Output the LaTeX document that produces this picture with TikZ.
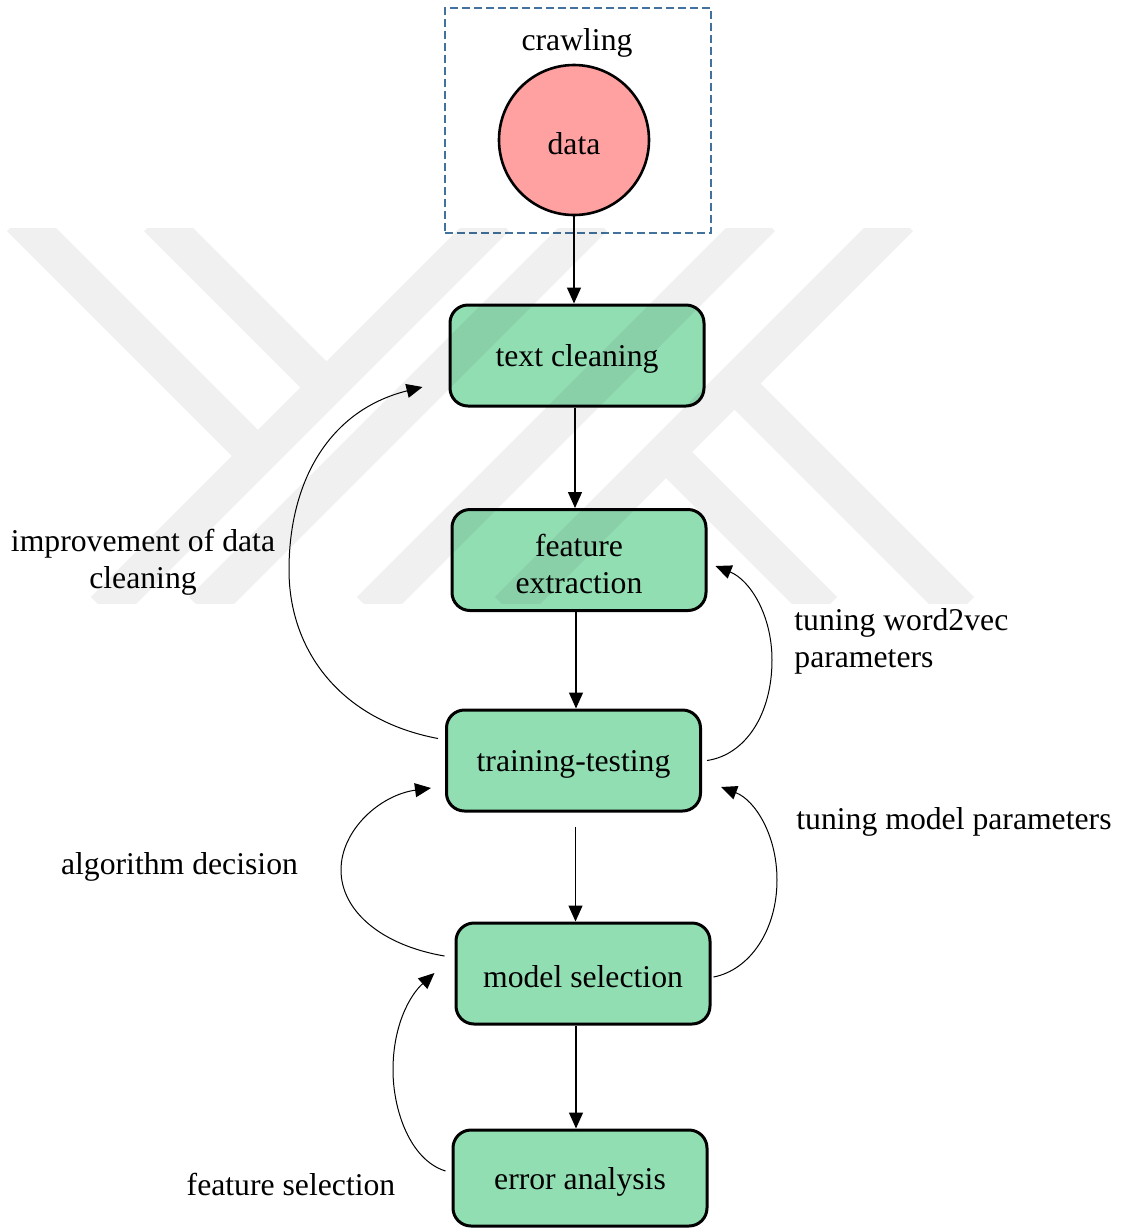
\documentclass[tikz,border=0pt]{standalone}
\usepackage{fontspec}
\setmainfont{Liberation Serif}
\usetikzlibrary{arrows.meta,calc}
\definecolor{boxgreen}{RGB}{146,222,179}
\definecolor{datapink}{RGB}{255,161,161}
\definecolor{frameblue}{RGB}{65,113,156}
% lower a line of text slightly without changing the size the node sees
\newcommand{\dn}[1]{\raisebox{-1.75pt}[\height][\depth]{#1}}

\begin{document}
\begin{tikzpicture}[x=0.5pt,y=-0.5pt,
  font=\fontsize{15.85}{18.5}\selectfont,
  stage/.style={draw=black, line width=1.5pt, fill=boxgreen, rounded corners=9pt,
    minimum width=127pt, minimum height=50.5pt, align=center, inner sep=0pt},
  flow/.style={-{Triangle[length=8pt,width=7pt]}, line width=0.7pt},
  loopback/.style={-{Triangle[length=8pt,width=7pt]}, line width=0.5pt},
  note/.style={align=center, inner sep=0pt}
]
\useasboundingbox (0,0) rectangle (1122,1228);

% crawling frame and the data source
\node[draw=frameblue, dashed, dash pattern=on 4pt off 2pt, line width=1pt,
      minimum width=133pt, minimum height=112.5pt, inner sep=0pt] (crawlbox) at (578,120.5) {};
\node[inner sep=0pt] (crawl) at (577,43) {crawling};
\node[circle, draw, line width=1.3pt, fill=datapink, minimum size=75pt, inner sep=0pt] (data) at (574,140) {\dn{data}};

% pipeline stages
\node[stage] (tc) at (577,355.5) {\dn{text cleaning}};
\node[stage] (fe) at (579,560) {\dn{feature}\\\dn{extraction}};
\node[stage] (tt) at (573.5,760.5) {\dn{training-testing}};
\node[stage] (ms) at (583,973.5) {\dn{model selection}};
\node[stage, minimum height=48pt] (ea) at (580,1178) {\dn{error analysis}};

% forward flow
\draw[flow] (data.south) -- (data.south |- tc.north);
\draw[flow] ([xshift=-1pt]tc.south) -- ([xshift=-1pt]tc.south |- fe.north);
\draw[flow] ([xshift=-1.5pt]fe.south) -- ([xshift=-1.5pt]fe.south |- tt.north);
\draw[flow] ([yshift=-7pt,xshift=1pt]tt.south) -- ([xshift=1pt]tt.south |- ms.north);
\draw[flow] ([xshift=-3.5pt]ms.south) -- ([xshift=-3.5pt]ms.south |- ea.north);

% feedback loops
\coordinate (l1s) at ([shift={(-7,-22)}]tt.west);
\coordinate (l1e) at ([shift={(-26,31.5)}]tc.west);
\draw[loopback] (l1s) .. controls (340,720) and (289,650) .. (289,570)
                .. controls (289,480) and (330,410) .. (l1e);

\coordinate (l2s) at ([shift={(5,0)}]tt.east);
\coordinate (l2e) at ([shift={(8,6)}]fe.east);
\draw[loopback] (l2s) .. controls (745,755) and (772,715) .. (772,660)
                .. controls (772,615) and (750,580) .. (l2e);

\coordinate (l3s) at ([shift={(2,3.5)}]ms.east);
\coordinate (l3e) at ([shift={(19,26.5)}]tt.east);
\draw[loopback] (l3s) .. controls (750,970) and (777,930) .. (777,880)
                .. controls (777,835) and (755,800) .. (l3e);

\coordinate (l4s) at ([shift={(-10,-17.5)}]ms.west);
\coordinate (l4e) at ([shift={(-14,27.5)}]tt.west);
\draw[loopback] (l4s) .. controls (380,945) and (341,910) .. (341,870)
                .. controls (341,830) and (380,795) .. (l4e);

\coordinate (l5s) at ([shift={(-6,-7)}]ea.west);
\coordinate (l5e) at ([shift={(-20,-0.5)}]ms.west);
\draw[loopback] (l5s) .. controls (410,1160) and (393,1110) .. (393,1070)
                .. controls (393,1025) and (410,995) .. (l5e);

% loop labels
\node[note] (lab1) at (143,562.5) {improvement of data\\cleaning};
\node[note, anchor=west, align=left] (lab2) at (794,641.5) {tuning word2vec\\parameters};
\node[note, anchor=west] (lab3) at (796,822) {tuning model parameters};
\node[note] (lab4) at (179.5,867) {algorithm decision};
\node[note] (lab5) at (291,1184) {feature selection};

% faint diagonal emblem in the background band
\begin{scope}
  \clip (0,228) rectangle (1122,603);
  \draw[line width=18.5pt, black, draw opacity=0.06, line cap=butt, line join=miter]
    (496,218) -- (104,610)
    (20,218) -- (258,456)
    (157,218) -- (326.5,387.5)
    (594,218) -- (202,610)
    (762,218) -- (370,610)
    (900,218) -- (508,610)
    (734.5,383.5) -- (961,610)
    (666,452) -- (824,610);
\end{scope}
\end{tikzpicture}
\end{document}
